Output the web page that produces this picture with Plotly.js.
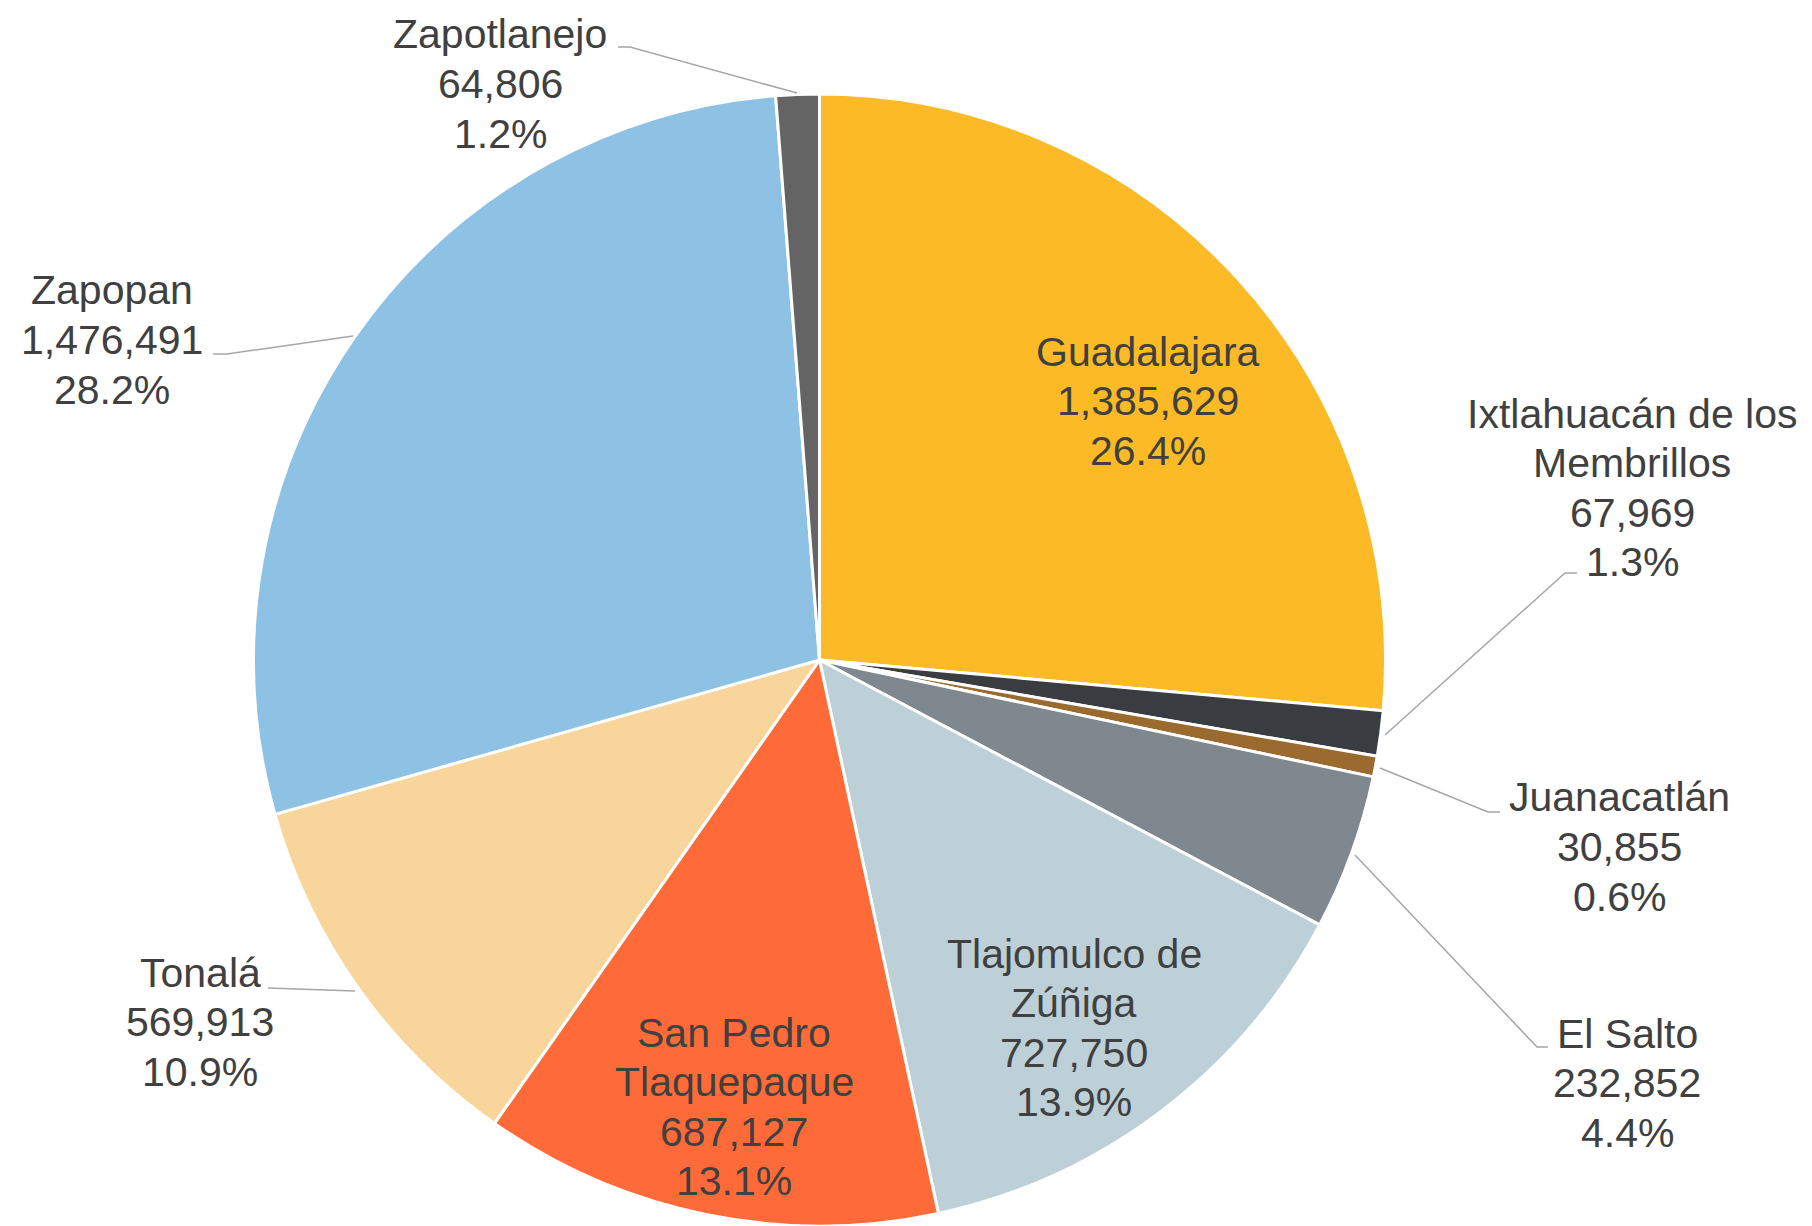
<!DOCTYPE html>
<html>
<head>
<meta charset="utf-8">
<script src="https://cdn.plot.ly/plotly-3.0.1.min.js"></script>
<style>
  html, body { margin: 0; padding: 0; background: #ffffff; }
  #chart { width: 1812px; height: 1226px; }
</style>
</head>
<body>
<div id="chart"></div>
<script>
// ---- Data ----
const municipios = [
  "Guadalajara",
  "Ixtlahuacán de los Membrillos",
  "Juanacatlán",
  "El Salto",
  "Tlajomulco de Zúñiga",
  "San Pedro Tlaquepaque",
  "Tonalá",
  "Zapopan",
  "Zapotlanejo"
];
const labelLines = [
  ["Guadalajara"],
  ["Ixtlahuacán de los", "Membrillos"],
  ["Juanacatlán"],
  ["El Salto"],
  ["Tlajomulco de", "Zúñiga"],
  ["San Pedro", "Tlaquepaque"],
  ["Tonalá"],
  ["Zapopan"],
  ["Zapotlanejo"]
];
const poblacion = [1385629, 67969, 30855, 232852, 727750, 687127, 569913, 1476491, 64806];

// ---- Styles / layout ----
const colors = ["#FBBA26", "#393D41", "#9A6A2E", "#7E888E", "#BDD0D8", "#FF6B38", "#F8D59A", "#8DC2E5", "#646464"];
const W = 1812, H = 1226;
const px = x => x / W;
const py = y => 1 - y / H;
const LINE_GAP = 49.5;
const FONT = { family: 'Liberation Sans, Arial, sans-serif', size: 41, color: '#404040' };

// label block centers (pixels)
const labelPos = [
  [1148, 401], [1632, 488], [1619, 847], [1627, 1083], [1074, 1028],
  [734, 1107], [200, 1022], [112, 340], [500, 84]
];
// leader lines (pixels)
const leaders = [
  [[1577, 573], [1565, 573], [1385, 735]],
  [[1500, 812], [1488, 812], [1380, 768]],
  [[1548, 1047], [1537, 1047], [1355, 855]],
  [[268, 988], [355, 991]],
  [[213, 354], [227, 354], [353, 336]],
  [[618, 47], [630, 47], [797, 93]]
];

const total = poblacion.reduce((a, b) => a + b, 0);
const fmt = v => v.toLocaleString('en-US');
const pct = v => (v / total * 100).toFixed(1) + '%';

const annotations = [];
municipios.forEach((m, i) => {
  const lines = labelLines[i].concat([fmt(poblacion[i]), pct(poblacion[i])]);
  const n = lines.length;
  lines.forEach((t, k) => {
    annotations.push({
      xref: 'paper', yref: 'paper',
      x: px(labelPos[i][0]),
      y: py(labelPos[i][1] + (k - (n - 1) / 2) * LINE_GAP),
      xanchor: 'center', yanchor: 'middle', align: 'center',
      showarrow: false,
      text: t,
      font: FONT
    });
  });
});

const shapes = leaders.map(pts => ({
  type: 'path', xref: 'paper', yref: 'paper',
  path: pts.map((p, k) => (k === 0 ? 'M' : 'L') + px(p[0]).toFixed(5) + ',' + py(p[1]).toFixed(5)).join(' '),
  line: { color: '#A6A6A6', width: 1.5 }
}));

const trace = {
  type: 'pie',
  labels: municipios,
  values: poblacion,
  sort: false,
  direction: 'clockwise',
  rotation: 0,
  textinfo: 'none',
  hoverinfo: 'label+value+percent',
  marker: { colors: colors, line: { color: '#FFFFFF', width: 3 } },
  domain: { x: [253.5 / W, 1385.5 / W], y: [0, 1 - 94 / H] },
  showlegend: false
};

Plotly.newPlot('chart', [trace], {
  width: W, height: H,
  margin: { l: 0, r: 0, t: 0, b: 0 },
  paper_bgcolor: '#FFFFFF',
  showlegend: false,
  annotations: annotations,
  shapes: shapes
}, { displayModeBar: false, staticPlot: true });
</script>
</body>
</html>
